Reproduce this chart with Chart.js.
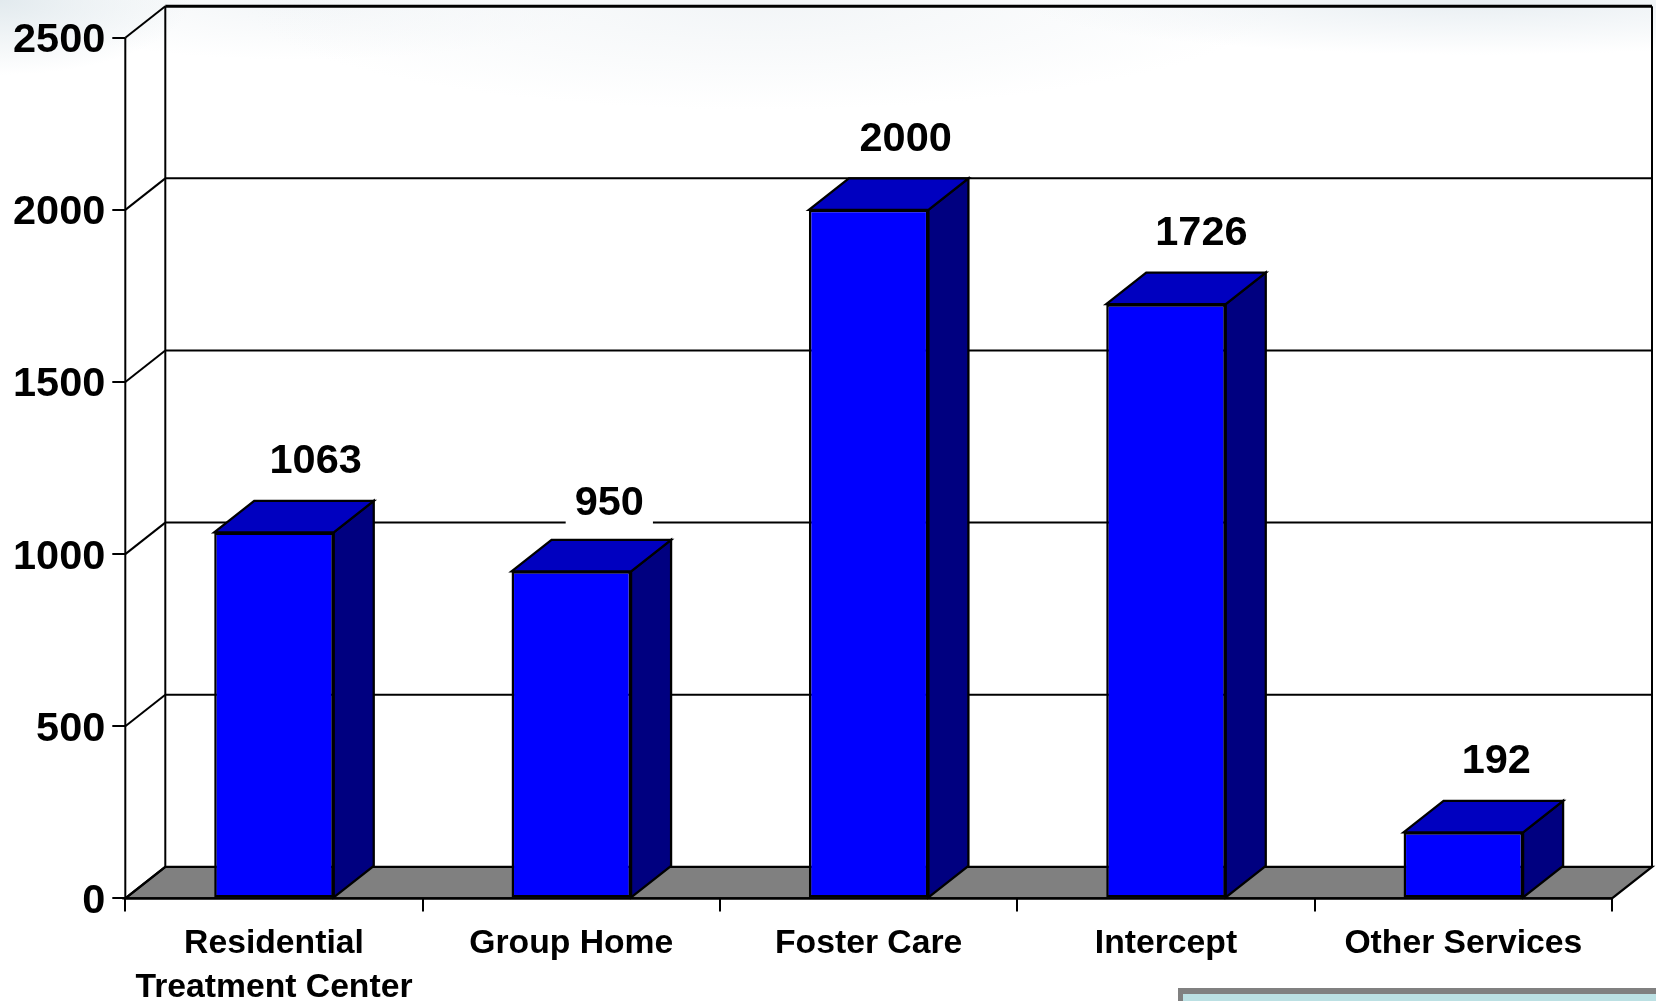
<!DOCTYPE html>
<html><head><meta charset="utf-8">
<style>
html,body{margin:0;padding:0;width:1656px;height:1001px;overflow:hidden;background:#fff}
#bg{position:absolute;left:0;top:0;width:1656px;height:150px;
 background:
  radial-gradient(ellipse 190px 75px at 0 0,#e2eaee 0%,rgba(255,255,255,0) 100%),
  radial-gradient(ellipse 460px 55px at 1480px 0,#e8eef2 0%,rgba(255,255,255,0) 100%),
  radial-gradient(ellipse 520px 110px at 760px 0,#f2f5f7 0%,rgba(255,255,255,0) 100%),
  radial-gradient(ellipse 300px 60px at 300px 0,#f3f6f8 0%,rgba(255,255,255,0) 100%);}
#box{position:absolute;left:1178px;top:988px;width:478px;height:13px;box-sizing:border-box;background:#bbe0e3;border-left:5px solid #808080;border-top:6px solid #808080}
canvas{position:absolute;left:0;top:0}
</style></head><body>
<div id="bg"></div><div id="box"></div>
<div style="position:absolute;left:0;top:0;width:1656px;height:1001px"><canvas id="c" width="1656" height="1001"></canvas></div>
<script src="https://cdn.jsdelivr.net/npm/chart.js@4"></script>
<script>
const categories=[["Residential","Treatment Center"],"Group Home","Foster Care","Intercept","Other Services"];
const values=[1063,950,2000,1726,192];
const yTicks=[0,500,1000,1500,2000,2500];
const DX=40,DY=31.5,FONT='"Liberation Sans",Arial,sans-serif';
const FRONT='#0000ff',SIDE='#000080',TOP='#0000c0',FLOOR='#808080',INK='#000';
const LW=2.3;
const labelNudgeX=[41.7,38,37,35.4,33],labelNudgeY=[-71,-68,-70,-71,-71];

function line(c,x1,y1,x2,y2,w){c.lineWidth=w;c.beginPath();c.moveTo(x1,y1);c.lineTo(x2,y2);c.stroke();}
function poly(c,pts,fill){c.fillStyle=fill;c.beginPath();pts.forEach((p,i)=>i?c.lineTo(p[0],p[1]):c.moveTo(p[0],p[1]));c.closePath();c.fill();c.stroke();}

const box3d={id:'box3d',
 beforeDraw(ch){
  // y tick labels sit 3px below their ticks in the reference
  ch.scales.y.getLabelItems(ch.chartArea).forEach(it=>{
   if(!it._moved){it.options.translation[1]+=3;it._moved=true;}
  });
 },
 beforeDatasetsDraw(ch){
  const c=ch.ctx,{left:l,right:r}=ch.chartArea,y=ch.scales.y;
  const y0=y.getPixelForValue(0),yT=y.getPixelForValue(2500);
  c.save();c.strokeStyle=INK;c.lineJoin='miter';c.lineWidth=LW;
  poly(c,[[l,y0],[r,y0],[r+DX,y0-DY],[l+DX,y0-DY]],FLOOR);
  yTicks.forEach(v=>{
   const p=y.getPixelForValue(v);
   line(c,l,p,l+DX,p-DY,2);
   if(v>0) line(c,l+DX,p-DY,r+DX,p-DY,v===2500?3:2);
  });
  line(c,l+DX,yT-DY,l+DX,y0-DY,2);
  line(c,r+DX,yT-DY,r+DX,y0-DY,2);
  line(c,l,yT,l,y0,2);
  c.restore();
 },
 afterDatasetsDraw(ch){
  const c=ch.ctx;
  c.save();c.strokeStyle=INK;c.lineWidth=LW;c.lineJoin='miter';
  ch.getDatasetMeta(0).data.forEach((b,i)=>{
   const w=b.width/2,x1=b.x-w,x2=b.x+w,t=b.y,bt=b.base;
   poly(c,[[x2,t],[x2+DX,t-DY],[x2+DX,bt-DY],[x2,bt]],SIDE);
   poly(c,[[x1,t],[x1+DX,t-DY],[x2+DX,t-DY],[x2,t]],TOP);
   const lx=b.x+labelNudgeX[i],ly=t+labelNudgeY[i],txt=String(values[i]);
   c.font='bold 41.5px '+FONT;c.textAlign='center';c.textBaseline='middle';
   const tw=c.measureText(txt).width;
   c.fillStyle='#fff';c.fillRect(lx-tw/2-9,ly-22,tw+18,44);
   c.fillStyle=INK;c.fillText(txt,lx,ly);
  });
  line(c,ch.chartArea.left,ch.chartArea.bottom,ch.chartArea.right,ch.chartArea.bottom,LW);
  c.restore();
 }};

new Chart(document.getElementById('c'),{
 type:'bar',
 data:{labels:categories,datasets:[{data:values,backgroundColor:FRONT,borderColor:INK,borderWidth:2.5,borderSkipped:false,barPercentage:0.67,categoryPercentage:0.6}]},
 plugins:[box3d],
 options:{responsive:false,animation:false,
  layout:{padding:{left:0,right:44,top:37.7,bottom:0}},
  plugins:{legend:{display:false},tooltip:{enabled:false},title:{display:false}},
  scales:{
   x:{grid:{display:true,drawOnChartArea:false,drawTicks:true,tickLength:13,color:INK,lineWidth:2,offset:true},
      border:{display:false},
      ticks:{color:INK,autoSkip:false,maxRotation:0,padding:10,font:{family:FONT,size:33.7,weight:'bold',lineHeight:1.32}},
      afterFit(s){s.height=102.6;}},
   y:{min:0,max:2500,afterBuildTicks(s){s.ticks=yTicks.map(v=>({value:v}));},
      grid:{display:true,drawOnChartArea:false,drawTicks:true,tickLength:13,color:INK,lineWidth:2},
      border:{display:false},
      ticks:{color:INK,padding:7,callback:v=>String(v),font:{family:FONT,size:41.5,weight:'bold'}},
      afterFit(s){s.width=125.3;}}
  }}
});
</script></body></html>
